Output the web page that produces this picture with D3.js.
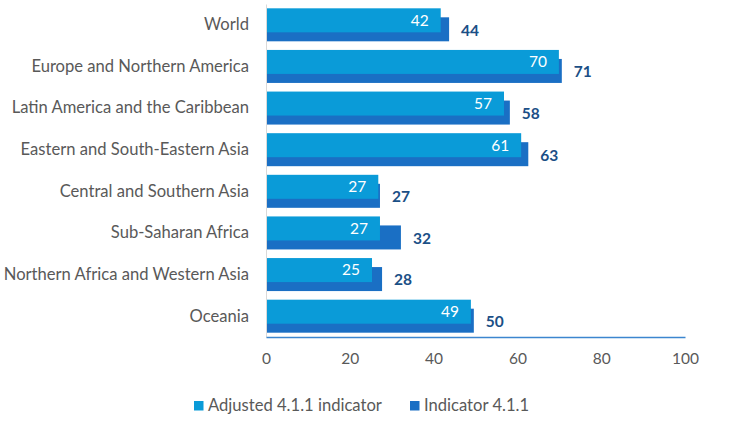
<!DOCTYPE html>
<html><head><meta charset="utf-8">
<script src="https://cdn.jsdelivr.net/npm/d3@7"></script>
<style>body{margin:0;background:#fff}svg{display:block}text{font-family:Lato,"Open Sans",sans-serif}</style>
</head><body><svg id="c" width="748" height="422"></svg>
<script>
const categories = ["World","Europe and Northern America","Latin America and the Caribbean","Eastern and South-Eastern Asia","Central and Southern Asia","Sub-Saharan Africa","Northern Africa and Western Asia","Oceania"];
const adjusted = [41.7,69.9,56.8,60.9,26.8,27.2,25.3,48.9];
const indicator = [43.7,70.6,58.2,62.6,27.2,32.2,27.7,49.6];
const xTicks = [0,20,40,60,80,100];
const seriesNames = ["Adjusted 4.1.1 indicator","Indicator 4.1.1"];

(function(){
const light = "#0A9BD8", dark = "#1A6FC4", navy = "#1B4F86", gray = "#595959";
const svg = d3.select("#c");
const x = d3.scaleLinear().domain([0,100]).range([266,685]);
const y = d3.scaleBand().domain(categories).range([4,337]).paddingInner(0).paddingOuter(0);
const bh = 24, off = 9;
const barTop = c => y(c) + (y.bandwidth() - (bh+off))/2;

const g = svg.append("g");
categories.forEach((c,i)=>{
  g.append("rect").attr("x",x(0)).attr("y",barTop(c)+off).attr("width",x(indicator[i])-x(0)).attr("height",bh).attr("fill",dark);
  g.append("rect").attr("x",x(0)).attr("y",barTop(c)).attr("width",x(adjusted[i])-x(0)).attr("height",bh).attr("fill",light);
  g.append("text").attr("x",x(adjusted[i])-12).attr("y",barTop(c)+bh/2).attr("dy","0.35em").attr("text-anchor","end")
    .attr("fill","#fff").attr("font-size",15.5).text(Math.round(adjusted[i]));
  g.append("text").attr("x",x(indicator[i])+12).attr("y",barTop(c)+off+bh/2+1).attr("dy","0.35em")
    .attr("fill",navy).attr("font-size",15.5).attr("font-weight","bold").text(Math.round(indicator[i]));
});

const ya = svg.append("g").attr("transform",`translate(${x(0)},0)`).call(d3.axisLeft(y).tickSize(0).tickPadding(17));
ya.select(".domain").attr("stroke","#d9d9d9");
ya.selectAll("text").attr("font-size",16.6).attr("fill",gray).attr("font-family","Lato,'Open Sans',sans-serif");

const xa = svg.append("g").attr("transform","translate(0,337)").call(d3.axisBottom(x).tickValues(xTicks).tickSize(0).tickPadding(16));
xa.select(".domain").attr("stroke","#3C86CF").attr("stroke-width",1.5);
xa.selectAll("text").attr("font-size",15.5).attr("fill",gray).attr("font-family","Lato,'Open Sans',sans-serif");

const lg = svg.append("g");
const lx = [194,410];
seriesNames.forEach((n,i)=>{
  lg.append("rect").attr("x",lx[i]).attr("y",401).attr("width",9.5).attr("height",9.5).attr("fill",i?dark:light);
  lg.append("text").attr("x",lx[i]+14).attr("y",405.5).attr("dy","0.35em").attr("font-size",16.6).attr("fill",gray).text(n);
});
})();
</script></body></html>
